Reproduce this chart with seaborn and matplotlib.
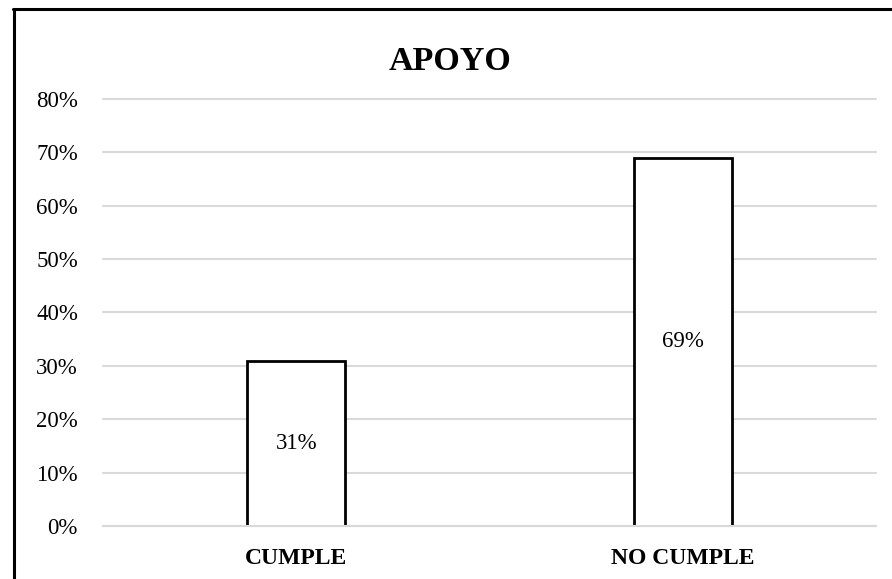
import matplotlib
matplotlib.use("Agg")
import matplotlib.pyplot as plt
from matplotlib.lines import Line2D
from matplotlib.ticker import PercentFormatter, MultipleLocator
import seaborn as sns
import pandas as pd

categories = ["CUMPLE", "NO CUMPLE"]
values = [0.31, 0.69]
title = "APOYO"

df = pd.DataFrame({"categoria": categories, "valor": values})

sns.set_theme(style="white")
plt.rcParams["font.family"] = ["Liberation Serif", "DejaVu Serif"]
plt.rcParams["text.color"] = "black"

W, H = 892, 579
fig = plt.figure(figsize=(W / 100, H / 100), dpi=100)
ax = fig.add_axes([103 / W, 1 - 526 / H, (876 - 103) / W, (526 - 99) / H])

sns.barplot(data=df, x="categoria", y="valor", ax=ax, color="white",
            edgecolor="black", linewidth=2.0, width=0.253, saturation=1,
            zorder=3)

ax.set_ylim(0, 0.8)
ax.set_xlim(-0.5, 1.5)
ax.yaxis.set_major_locator(MultipleLocator(0.1))
ax.yaxis.set_major_formatter(PercentFormatter(1.0, decimals=0))
ax.grid(axis="y", color="#d9d9d9", linewidth=1.5, zorder=0)
ax.set_axisbelow(True)
for gl in ax.get_ygridlines():
    gl.set_clip_on(False)
for s in ["top", "right", "left"]:
    ax.spines[s].set_visible(False)
ax.spines["bottom"].set_color("#d9d9d9")
ax.spines["bottom"].set_linewidth(1.5)
ax.spines["bottom"].set_zorder(5)
ax.tick_params(axis="y", length=0, pad=18, labelsize=16.5, labelcolor="black")
ax.tick_params(axis="x", length=0, pad=16, labelsize=17, labelcolor="black")
for lbl in ax.get_xticklabels():
    lbl.set_fontweight("bold")
ax.set_xlabel("")
ax.set_ylabel("")

# value labels centred inside each bar
for cont in ax.containers:
    ax.bar_label(cont, labels=[f"{v * 100:.0f}%" for v in values],
                 label_type="center", fontsize=16.5, color="black")

fig.text(450 / W, 1 - 61 / H, title, ha="center", va="center",
         fontsize=24.5, fontweight="bold", color="black")

# outer frame (left and top edges fall inside the canvas)
fig.add_artist(Line2D([14 / W, 14 / W], [0, 1 - 8.5 / H], transform=fig.transFigure,
                      color="black", linewidth=2.2))
fig.add_artist(Line2D([13 / W, 1], [1 - 9 / H, 1 - 9 / H], transform=fig.transFigure,
                      color="black", linewidth=2.2))

fig.savefig("out.png", dpi=100, facecolor="white")
